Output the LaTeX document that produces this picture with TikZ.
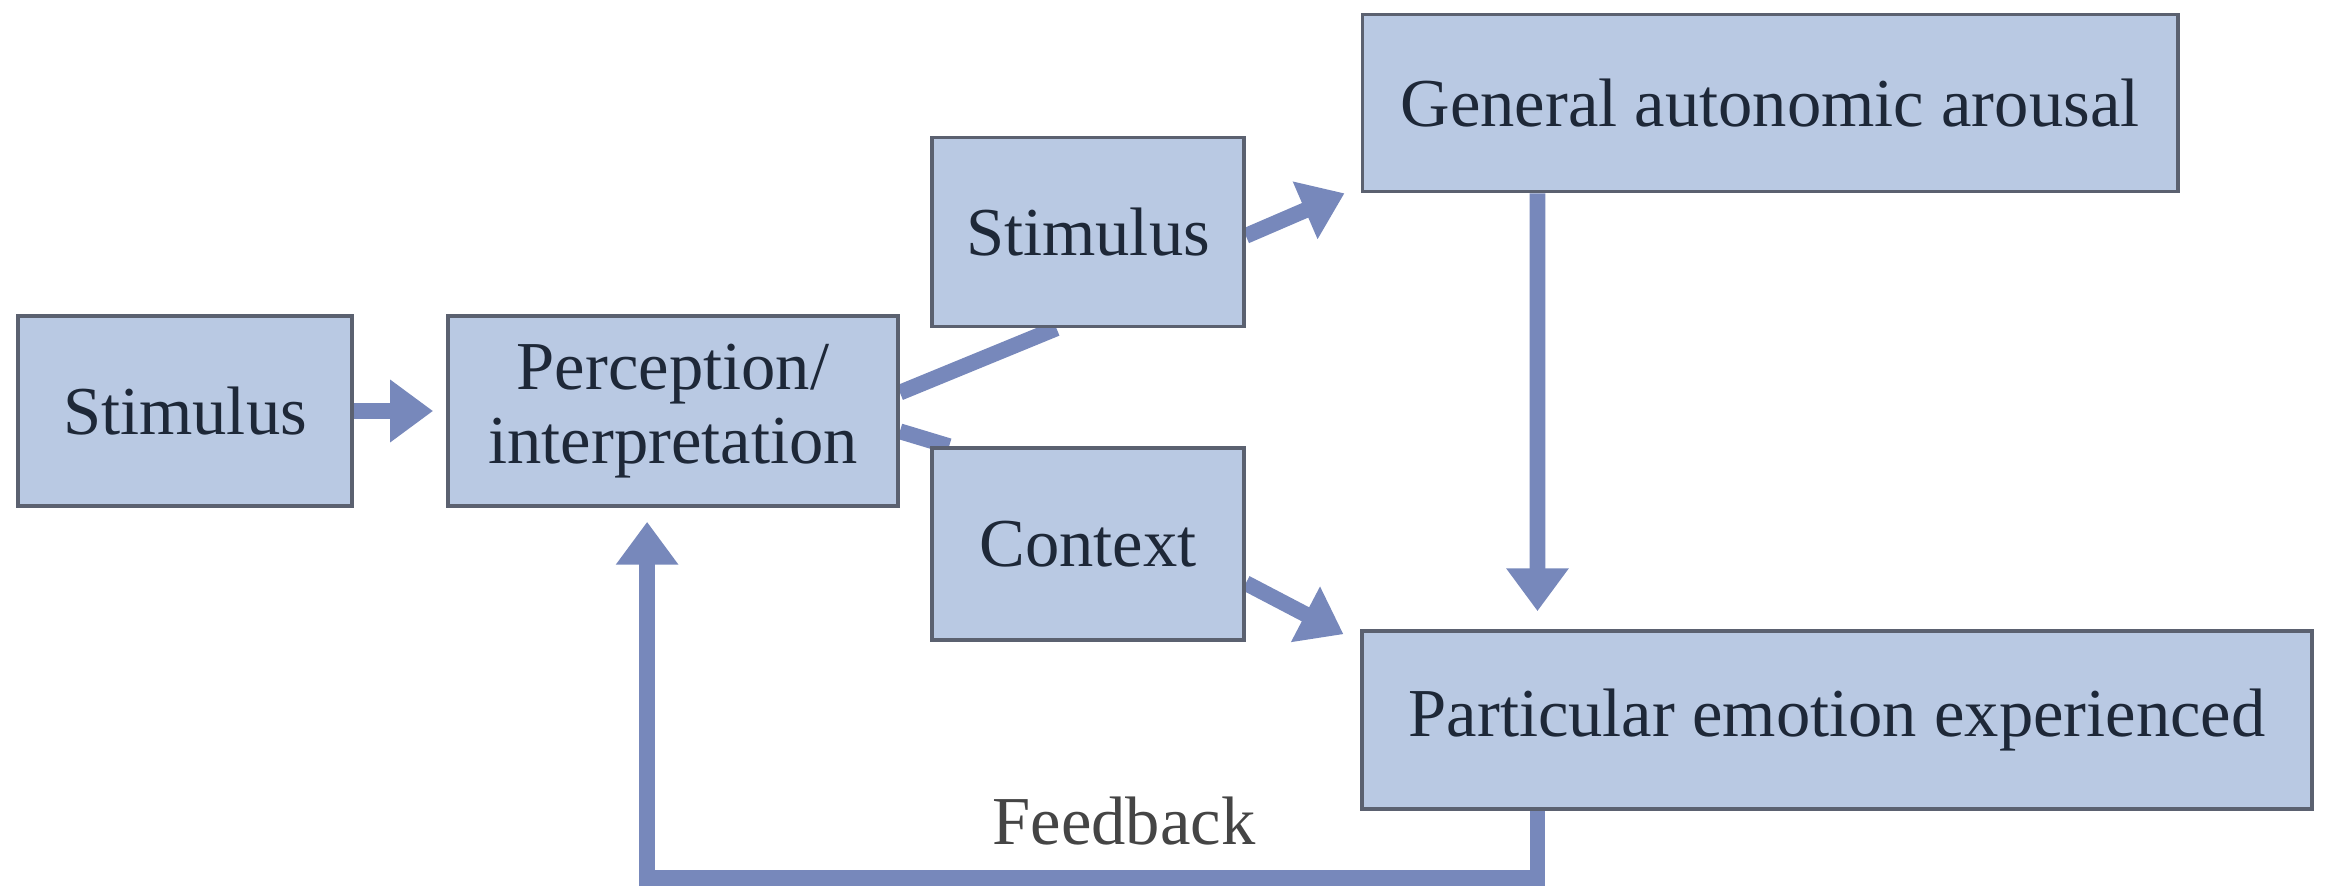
\documentclass[tikz,border=0pt]{standalone}
\usepackage{fontspec}
\setmainfont{Liberation Serif}
\usetikzlibrary{arrows.meta,calc,backgrounds}
\definecolor{boxfill}{HTML}{B9C9E3}
\definecolor{boxdraw}{HTML}{5B6170}
\definecolor{arrowc}{HTML}{7788BB}
\definecolor{txt}{HTML}{1E2838}
\definecolor{fbtxt}{HTML}{454545}
\begin{document}
\begin{tikzpicture}[x=0.01cm,y=-0.01cm,
  box/.style={draw=boxdraw, line width=1pt, fill=boxfill, text=txt,
    font=\fontsize{19.5}{21}\selectfont, align=center, inner sep=0pt},
  conn/.style={draw=arrowc, line width=4.5pt, line join=miter},
  arr/.style={conn, -{Triangle[length=12.2pt,width=17pt]}}]
\useasboundingbox (0,0) rectangle (2328,885);
\node[box, minimum width=3.34cm, minimum height=1.90cm] (s1) at (185,411) {Stimulus};
\node[box, minimum width=4.50cm, minimum height=1.90cm] (p) at (673,411) {Perception/\\interpretation};
\node[box, minimum width=3.12cm, minimum height=1.89cm] (s2) at (1088,232) {Stimulus};
\node[box, minimum width=3.12cm, minimum height=1.92cm] (c) at (1088,544) {Context};
\node[box, minimum width=8.15cm, minimum height=1.77cm] (g) at (1770,103) {General autonomic arousal};
\node[box, minimum width=9.49cm, minimum height=1.78cm] (e) at (1837,720) {Particular emotion experienced};
\coordinate (p1) at ($(p.north east)!0.405!(p.south east)$);
\coordinate (s2b) at ($(s2.south west)!0.40!(s2.south east)$);
\coordinate (p2) at ($(p.north east)!0.605!(p.south east)$);
\coordinate (cw) at ($(c.north west)!0.06!(c.north east)$);
\coordinate (s2e) at ($(s2.north east)!0.52!(s2.south east)$);
\coordinate (gt) at ($(g.south west)+(-16,0)$);
\coordinate (ce) at ($(c.north east)!0.70!(c.south east)$);
\coordinate (et) at ($(e.north west)+(-17,5)$);
\coordinate (gb) at ($(g.south west)+(177,0)$);
\coordinate (etop) at ($(e.north west)+(177,-18)$);
\coordinate (eb) at ($(e.south west)+(177,0)$);
\coordinate (fb1) at ($(eb)+(0,67)$);
\coordinate (pt) at ($(p.south west)+(201,14)$);
\begin{scope}[on background layer]
\draw[arr, shorten >=3.7pt] (s1.east) -- (p.west);
\draw[conn] (p1) -- (s2b);
\draw[conn] (p2) -- (cw);
\draw[arr] (s2e) -- (gt);
\draw[arr] (ce) -- (et);
\draw[arr] (gb) -- (etop);
\draw[arr] (eb) -- (fb1) -| (pt);
\end{scope}
\node[text=fbtxt, font=\fontsize{19.5}{21}\selectfont] (fb) at (1124,821) {Feedback};
\end{tikzpicture}
\end{document}
